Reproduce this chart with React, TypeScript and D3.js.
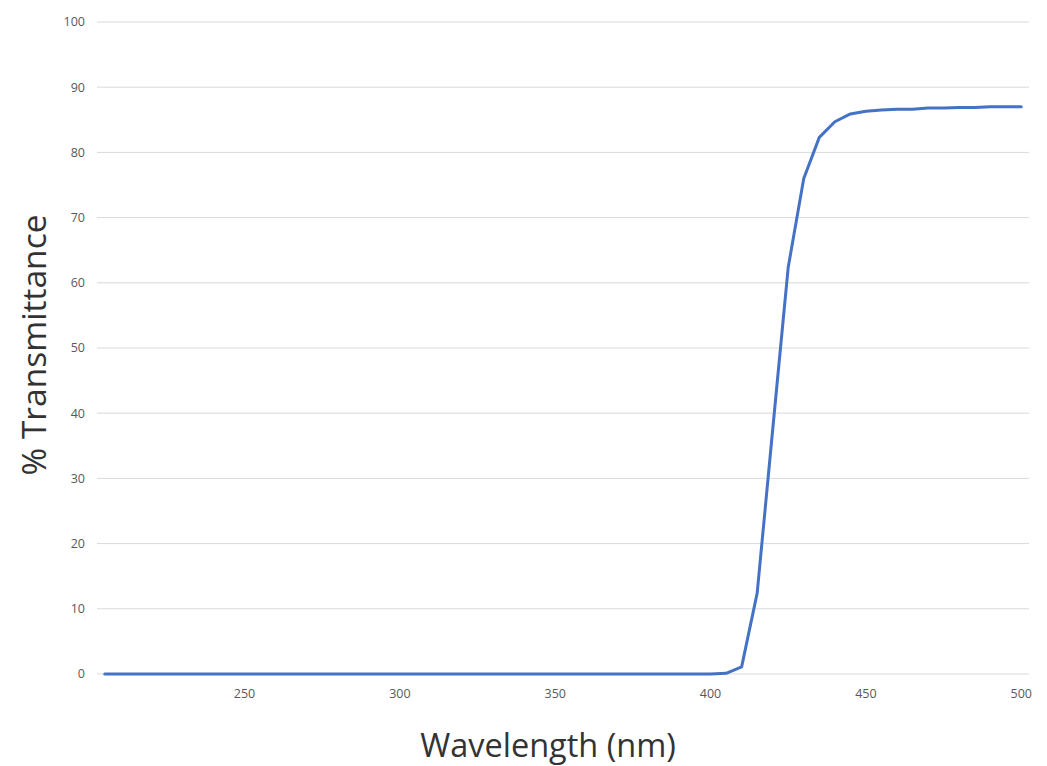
import React, { useEffect, useRef } from 'react';
import * as d3 from 'd3';

const wavelengths = [
  205, 210, 215, 220, 225, 230, 235, 240, 245, 250,
  255, 260, 265, 270, 275, 280, 285, 290, 295, 300,
  305, 310, 315, 320, 325, 330, 335, 340, 345, 350,
  355, 360, 365, 370, 375, 380, 385, 390, 395, 400,
  405, 410, 415, 420, 425, 430, 435, 440, 445, 450,
  455, 460, 465, 470, 475, 480, 485, 490, 495, 500,
];
const transmittance = [
  0, 0, 0, 0, 0, 0, 0, 0, 0, 0,
  0, 0, 0, 0, 0, 0, 0, 0, 0, 0,
  0, 0, 0, 0, 0, 0, 0, 0, 0, 0,
  0, 0, 0, 0, 0, 0, 0, 0, 0, 0,
  0.1, 1.1, 12.4, 37.5, 62.4, 76.0, 82.3, 84.7, 85.9, 86.3,
  86.5, 86.6, 86.6, 86.8, 86.8, 86.9, 86.9, 87.0, 87.0, 87.0,
];
const xTicks = [250, 300, 350, 400, 450, 500];
const yTicks = [0, 10, 20, 30, 40, 50, 60, 70, 80, 90, 100];

export default function App() {
  const ref = useRef<SVGSVGElement>(null);

  useEffect(() => {
    const width = 1047;
    const height = 766;
    const svg = d3.select(ref.current);
    svg.selectAll('*').remove();

    const x = d3.scaleLinear().domain([202.5, 502.5]).range([97, 1029]);
    const y = d3.scaleLinear().domain([0, 100]).range([674, 22]);
    const font = '"Open Sans", "DejaVu Sans", sans-serif';

    svg.append('rect').attr('width', width).attr('height', height).attr('fill', '#fff');

    // gridlines
    svg.append('g')
      .selectAll('line')
      .data(yTicks)
      .enter()
      .append('line')
      .attr('x1', x.range()[0])
      .attr('x2', x.range()[1])
      .attr('y1', d => y(d))
      .attr('y2', d => y(d))
      .attr('stroke', '#d9d9d9')
      .attr('stroke-width', 1);

    // y tick labels
    svg.append('g')
      .selectAll('text')
      .data(yTicks)
      .enter()
      .append('text')
      .attr('x', 85)
      .attr('y', d => y(d))
      .attr('dy', '0.35em')
      .attr('text-anchor', 'end')
      .attr('font-family', font)
      .attr('font-size', 12.5)
      .attr('fill', '#595959')
      .text(d => d);

    // x tick labels
    svg.append('g')
      .selectAll('text')
      .data(xTicks)
      .enter()
      .append('text')
      .attr('x', d => x(d))
      .attr('y', 698)
      .attr('text-anchor', 'middle')
      .attr('font-family', font)
      .attr('font-size', 12.5)
      .attr('fill', '#595959')
      .text(d => d);

    const line = d3.line<number>()
      .x((d, i) => x(wavelengths[i]))
      .y(d => y(d));

    svg.append('path')
      .datum(transmittance)
      .attr('d', line)
      .attr('fill', 'none')
      .attr('stroke', '#4472c4')
      .attr('stroke-width', 3)
      .attr('stroke-linejoin', 'round')
      .attr('stroke-linecap', 'round');

    // axis titles
    svg.append('text')
      .attr('x', 548)
      .attr('y', 757)
      .attr('text-anchor', 'middle')
      .attr('font-family', font)
      .attr('font-size', 32.5)
      .attr('fill', '#333')
      .text('Wavelength (nm)');

    svg.append('text')
      .attr('transform', 'translate(46,345) rotate(-90)')
      .attr('text-anchor', 'middle')
      .attr('font-family', font)
      .attr('font-size', 33.5)
      .attr('fill', '#333')
      .text('% Transmittance');
  }, []);

  return <svg ref={ref} width={1047} height={766} style={{ display: 'block', position: 'absolute', left: 0, top: 0 }} />;
}
